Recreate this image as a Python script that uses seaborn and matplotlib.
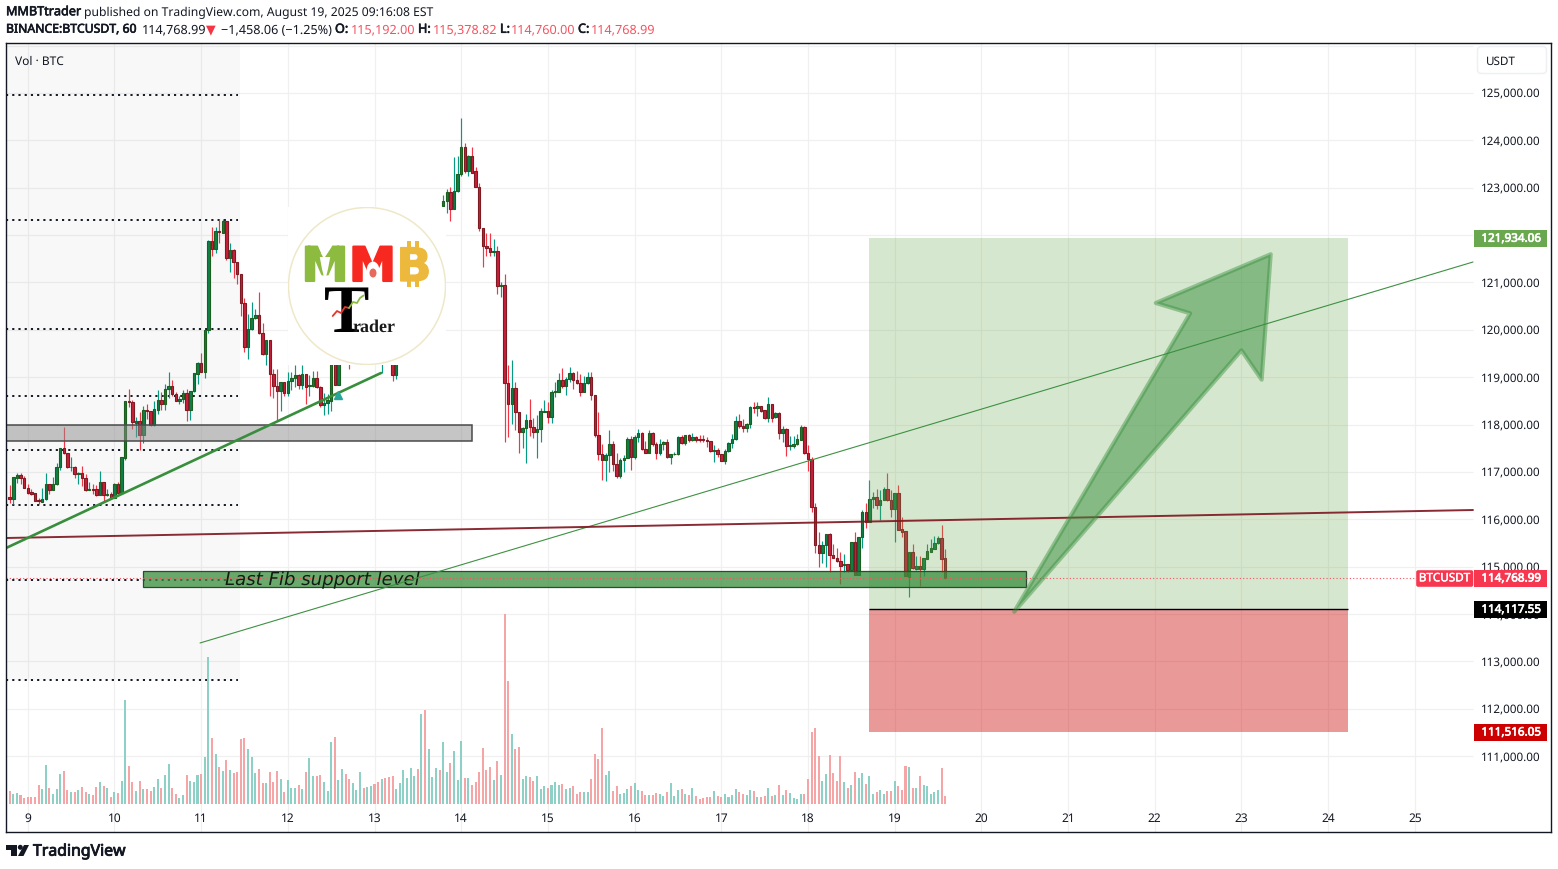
import matplotlib
matplotlib.use('Agg')
import matplotlib.patheffects as pe
import matplotlib.pyplot as plt
import numpy as np
import pandas as pd
import seaborn as sns
from matplotlib.patches import Circle, Ellipse, FancyBboxPatch, Polygon, Rectangle
from matplotlib.transforms import IdentityTransform, ScaledTranslation

W, H = 1558, 870

# hourly candles (hours 92-119 sit behind the logo, rough guess)
opens = [
    116480, 116430, 116880, 116930, 116880, 116670, 116570, 116550, 116400, 116370,
    116420, 116740, 116620, 116740, 117100, 117500, 117410, 117100, 117110, 116960,
    116970, 116880, 116620, 116650, 116640, 116510, 116780, 116510, 116530, 116460,
    116740, 116550, 117290, 118500, 118470, 118040, 118070, 117780, 118310, 118280,
    118000, 118310, 118520, 118440, 118760, 118810, 118650, 118500, 118550, 118660,
    118310, 118700, 119070, 119300, 119120, 120000, 121870, 121710, 122090, 122050,
    122290, 121520, 121680, 121440, 121170, 120560, 119630, 120010, 120240, 120310,
    119930, 119490, 119780, 119070, 118820, 118700, 118890, 118670, 118930, 118980,
    119040, 118840, 119060, 118810, 118820, 118980, 118800, 118410, 118450, 118500,
    119380, 118840, 119400, 119600, 119450, 119350, 119500, 119650, 119750, 119600,
    119700, 119800, 119650, 119500, 119600, 119450, 119350, 119050, 119400, 119800,
    120200, 120600, 120900, 121300, 121100, 121600, 121350, 121700, 122000, 122350,
    122620, 122730, 122900, 122560, 122940, 123300, 123850, 123350, 123660, 123350,
    123010, 122140, 121760, 121720, 121640, 121660, 120930, 120940, 118870, 118430,
    118780, 118260, 117850, 117920, 118090, 117940, 117850, 117900, 118270, 118280,
    118170, 118680, 118690, 118950, 118820, 118970, 119080, 118950, 118870, 118690,
    118870, 119000, 118630, 117770, 117380, 117260, 117350, 117580, 117160, 116920,
    117260, 117300, 117690, 117310, 117730, 117820, 117490, 117410, 117820, 117580,
    117390, 117580, 117630, 117310, 117370, 117370, 117730, 117620, 117780, 117670,
    117730, 117690, 117690, 117670, 117650, 117450, 117460, 117370, 117240, 117440,
    117610, 117690, 118070, 117980, 117920, 118010, 118370, 118350, 118390, 118310,
    118140, 118430, 118150, 118250, 117830, 117910, 117540, 117540, 117580, 117680,
    117940, 117400, 117280, 116260, 115450, 115290, 115450, 115690, 115240, 115190,
    115120, 115040, 115050, 114940, 115520, 114830, 115620, 116150, 115940, 116420,
    116470, 116310, 116400, 116640, 116400, 116210, 116550, 115790, 115750, 114790,
    115300, 114960, 115020, 114960, 115170, 115320, 115380, 115490, 115600, 115192,
]
closes = [
    116430, 116890, 116930, 116880, 116670, 116560, 116530, 116390, 116380, 116420,
    116740, 116620, 116740, 117100, 117500, 117410, 117100, 117110, 116960, 116970,
    116880, 116620, 116650, 116620, 116510, 116780, 116510, 116530, 116450, 116740,
    116560, 117310, 118490, 118480, 118050, 118070, 117780, 118300, 118290, 118000,
    118330, 118520, 118440, 118760, 118810, 118650, 118500, 118550, 118660, 118310,
    118700, 119080, 119300, 119120, 120000, 121870, 121710, 122080, 122070, 122290,
    121520, 121680, 121440, 121170, 120560, 119630, 120010, 120240, 120310, 119930,
    119490, 119780, 119070, 118820, 118700, 118890, 118670, 118930, 118980, 119040,
    118840, 119060, 118800, 118830, 118980, 118800, 118410, 118460, 118520, 119380,
    118840, 119400, 119600, 119450, 119350, 119500, 119650, 119750, 119600, 119700,
    119800, 119650, 119500, 119600, 119450, 119350, 119050, 119400, 119800, 120200,
    120600, 120900, 121300, 121100, 121600, 121350, 121700, 122000, 122350, 122200,
    122730, 122900, 122560, 122940, 123300, 123850, 123350, 123660, 123320, 123010,
    122140, 121760, 121720, 121640, 121660, 120930, 120950, 118870, 118430, 118780,
    118260, 117850, 117920, 118090, 117940, 117850, 117900, 118280, 118290, 118170,
    118680, 118700, 118950, 118820, 118970, 119080, 118950, 118870, 118690, 118870,
    119000, 118630, 117770, 117380, 117260, 117350, 117580, 117160, 116920, 117260,
    117300, 117690, 117310, 117730, 117820, 117490, 117410, 117820, 117580, 117390,
    117590, 117630, 117310, 117370, 117380, 117730, 117620, 117780, 117670, 117730,
    117680, 117670, 117670, 117650, 117440, 117470, 117370, 117240, 117440, 117610,
    117690, 118070, 117980, 117920, 118010, 118370, 118360, 118390, 118290, 118140,
    118430, 118140, 118250, 117830, 117910, 117540, 117570, 117590, 117700, 117940,
    117400, 117280, 116260, 115450, 115290, 115450, 115690, 115240, 115190, 115120,
    115020, 115060, 114940, 115520, 114830, 115620, 116150, 115940, 116430, 116470,
    116310, 116410, 116640, 116400, 116210, 116550, 115780, 115740, 114800, 115300,
    114970, 115010, 114960, 115180, 115330, 115390, 115500, 115600, 115170, 114768.99,
]
highs = [
    116720, 116890, 116980, 116980, 116910, 116740, 116640, 116550, 116460, 116670,
    116980, 116740, 116890, 117190, 117500, 117940, 117410, 117310, 117130, 117000,
    117130, 116960, 116780, 116740, 116720, 117020, 116780, 116640, 116580, 116760,
    116780, 117310, 118490, 118750, 118510, 118150, 118260, 118400, 118430, 118280,
    118500, 118730, 118680, 118860, 119110, 118940, 118680, 118610, 118720, 118760,
    118700, 119080, 119330, 119510, 120000, 121890, 122170, 122170, 122340, 122340,
    122300, 121830, 121710, 121440, 121170, 120670, 120330, 120580, 120440, 120790,
    120140, 119780, 119780, 119170, 119170, 118890, 118900, 119100, 119120, 119260,
    119070, 119260, 119060, 119050, 119140, 119140, 118820, 118660, 118640, 119450,
    119500, 119500, 119700, 119650, 119500, 119600, 119700, 119850, 119800, 119800,
    119900, 119850, 119700, 119700, 119650, 119500, 119400, 119500, 119900, 120300,
    120700, 121000, 121400, 121350, 121700, 121650, 121800, 122100, 122450, 122450,
    122850, 122970, 123010, 123640, 123660, 124470, 123940, 123690, 123860, 123440,
    123110, 122140, 122040, 122040, 121920, 121780, 121020, 121180, 119260, 119360,
    118890, 118260, 117940, 118220, 118540, 118140, 118200, 118350, 118520, 118470,
    118730, 118890, 119090, 119190, 119010, 119210, 119100, 119140, 119070, 119030,
    119120, 119120, 118630, 118270, 117590, 117410, 117880, 117650, 117410, 117300,
    117350, 117730, 117750, 117770, 117900, 117840, 117660, 117880, 117850, 117640,
    117700, 117650, 117690, 117370, 117420, 117750, 117790, 117790, 117800, 117820,
    117750, 117770, 117780, 117730, 117660, 117560, 117500, 117380, 117490, 117630,
    117800, 118180, 118230, 118120, 118030, 118390, 118470, 118470, 118390, 118310,
    118580, 118440, 118260, 118260, 117970, 117920, 117750, 117750, 117800, 118000,
    117980, 117560, 117310, 116350, 115730, 115550, 115690, 115710, 115480, 115400,
    115310, 115270, 115050, 115520, 115730, 115620, 116190, 116350, 116820, 116570,
    116640, 116610, 116690, 116980, 116610, 116550, 116730, 116050, 115760, 115300,
    115480, 115220, 115220, 115180, 115480, 115590, 115640, 115640, 115880, 115378.82,
]
lows = [
    116340, 116320, 116760, 116740, 116670, 116530, 116510, 116390, 116320, 116360,
    116410, 116530, 116620, 116720, 117050, 117380, 117080, 117030, 116880, 116740,
    116710, 116600, 116620, 116530, 116500, 116510, 116370, 116500, 116430, 116450,
    116540, 116530, 117260, 118380, 117910, 117740, 117470, 117620, 118120, 117980,
    117960, 118220, 118310, 118310, 118560, 118600, 118490, 118430, 118450, 118070,
    118100, 118690, 118860, 119120, 118980, 119930, 121550, 121620, 121830, 122040,
    121480, 121230, 121100, 120970, 120290, 119540, 119390, 120000, 120230, 119910,
    119470, 119260, 118610, 118560, 118080, 118290, 118600, 118610, 118720, 118790,
    118750, 118750, 118430, 118610, 118790, 118770, 118380, 118210, 118220, 118290,
    118840, 118840, 119300, 119350, 119170, 119300, 119400, 119600, 119550, 119550,
    119650, 119550, 119400, 119090, 119350, 119300, 118930, 118960, 119350, 119750,
    120100, 120500, 120800, 121000, 121050, 121300, 121300, 121650, 121950, 122100,
    122620, 122470, 122300, 122560, 122920, 123250, 123320, 123250, 123310, 123010,
    122090, 121330, 121560, 121550, 121560, 120760, 120700, 117640, 117740, 118010,
    117890, 117400, 117510, 117190, 117760, 117720, 117300, 117640, 118260, 118030,
    118030, 118590, 118680, 118780, 118630, 118890, 118760, 118850, 118610, 118690,
    118850, 118520, 117740, 117260, 116830, 116810, 117000, 117020, 116880, 116880,
    117000, 117300, 117040, 117280, 117640, 117470, 117400, 117410, 117540, 117280,
    117350, 117470, 117300, 117160, 117350, 117350, 117580, 117560, 117640, 117660,
    117630, 117630, 117630, 117520, 117420, 117220, 117310, 117230, 117170, 117420,
    117500, 117680, 117920, 117840, 117850, 117930, 118250, 118180, 118260, 118120,
    118060, 118050, 118140, 117700, 117640, 117330, 117460, 117500, 117560, 117680,
    117380, 117030, 116160, 115290, 115000, 115080, 115000, 114880, 115190, 115090,
    114640, 114880, 114880, 114920, 114830, 114830, 115390, 115820, 115940, 116240,
    116220, 115990, 116400, 116380, 116050, 115530, 115780, 115620, 114800, 114370,
    114950, 114940, 114600, 114810, 115160, 115320, 115380, 115480, 114880, 114760,
]
volumes = [
    390, 300, 330, 270, 180, 210, 210, 210, 570, 450,
    1170, 480, 300, 450, 900, 990, 420, 360, 360, 420,
    510, 360, 300, 270, 510, 660, 540, 480, 210, 360,
    330, 690, 3120, 1140, 660, 390, 690, 450, 450, 390,
    510, 750, 480, 870, 1200, 480, 300, 180, 270, 870,
    690, 660, 870, 900, 1410, 4410, 1980, 1500, 1110, 990,
    1320, 1020, 930, 960, 1950, 1980, 1650, 1410, 930, 1050,
    630, 630, 960, 660, 990, 750, 360, 720, 480, 480,
    570, 450, 960, 1380, 840, 840, 870, 660, 390, 1860,
    2010, 720, 1050, 900, 750, 630, 420, 960, 480, 510,
    540, 600, 660, 750, 780, 810, 840, 450, 630, 1020,
    780, 1080, 840, 1050, 2700, 2820, 1650, 810, 1080, 1020,
    1860, 960, 1230, 1590, 720, 1890, 780, 780, 570, 660,
    960, 1680, 1020, 1110, 720, 1290, 870, 5700, 3690, 2100,
    1650, 1710, 750, 840, 810, 690, 840, 450, 540, 480,
    570, 660, 570, 600, 450, 480, 540, 300, 360, 360,
    360, 750, 1500, 1350, 2280, 870, 990, 390, 540, 300,
    330, 450, 540, 630, 420, 390, 270, 270, 270, 330,
    300, 240, 360, 630, 240, 420, 450, 300, 270, 480,
    240, 150, 180, 210, 210, 390, 240, 210, 300, 210,
    270, 450, 360, 300, 270, 420, 390, 210, 210, 240,
    480, 240, 270, 570, 270, 420, 330, 180, 150, 300,
    300, 750, 2160, 2280, 1440, 690, 900, 1470, 930, 690,
    1440, 660, 480, 570, 960, 780, 930, 600, 840, 300,
    360, 420, 300, 390, 390, 690, 540, 420, 1140, 1110,
    480, 480, 840, 570, 540, 300, 360, 420, 1080, 240,
]

day_labels = list(range(9, 26))
price_ticks = list(range(111000, 126000, 1000))
fib_levels = [124964, 122319, 120018, 118604, 117470, 116309, 114719, 112615]
last_price = 114768.99
target_price = 121934.06
entry_price = 114117.55
stop_price = 111516.05

# drawings: [hour, price] pairs
trend_up_x, trend_up_y = [-1.0, 102.8], [115395, 119089]
trend_thin_x, trend_thin_y = [52.7, 405.1], [113390, 121432]
trend_red_x, trend_red_y = [-1.0, 405.1], [115606, 116197]
arrow_hours = [278.1, 326.8, 317.3, 349.1, 346.6, 341.0]
arrow_prices = [114050, 120349, 120567, 121595, 118948, 119568]

GREEN_WICK, RED_WICK = '#089981', '#f23645'
GREEN_BODY, RED_BODY = '#0c8049', '#c9203a'
GREEN_EDGE, RED_EDGE = '#1b5e20', '#801922'
DARK = '#131722'
GRID = '#f0f0f1'

sns.set_theme(style='white')
plt.rcParams['font.family'] = ['Noto Sans', 'DejaVu Sans']
plt.rcParams['text.hinting'] = 'no_hinting'  # widths then scale with the size

df = pd.DataFrame({'hour': np.arange(len(opens)), 'open': opens, 'close': closes,
                   'high': highs, 'low': lows, 'volume': volumes})
df['side'] = np.where(df['close'] >= df['open'], 'up', 'down')

fig = plt.figure(figsize=(W / 100, H / 100), dpi=100, facecolor='white')
rect = [6 / W, (H - 833) / H, 1545 / W, 789 / H]
ax = fig.add_axes(rect, zorder=0)
ax_vol = fig.add_axes(rect, zorder=2)
ax_vol.patch.set_alpha(0)

XLIM = (-1.016, 426.7)
YLIM = (109400, 126055)
LAST_X = 405.1  # right end of the chart pane

# grid
ax.set_axisbelow(True)
ax.grid(False)
day_ticks = [5 + 24 * i for i in range(len(day_labels))]
ax.vlines(day_ticks, *YLIM, color=GRID, lw=0.9, zorder=0.2)
ax.hlines(price_ticks + [126000], XLIM[0], LAST_X, color=GRID, lw=0.9, zorder=0.2)

# pale session box and fib dotted levels
ax.add_patch(Rectangle((XLIM[0], 112609), 64.9, YLIM[1] - 112609, fc='black', alpha=0.028, lw=0, zorder=0.3))
ax.hlines(fib_levels, XLIM[0], 63.2, color=DARK, lw=1.4, linestyles=(0, (1.1, 2.1)), zorder=1)

# candles
up = df['side'] == 'up'
for mask, wick, body, edge in [(up, GREEN_WICK, GREEN_BODY, GREEN_EDGE), (~up, RED_WICK, RED_BODY, RED_EDGE)]:
    part = df[mask]
    ax.vlines(part['hour'], part['low'], part['high'], color=wick, lw=0.85, zorder=2)
    tops = part[['open', 'close']].max(axis=1)
    bottoms = part[['open', 'close']].min(axis=1)
    ax.bar(part['hour'], tops - bottoms, bottom=bottoms, width=0.68, color=body,
           edgecolor=edge, linewidth=0.8, zorder=2.1)

# volume pane
sns.barplot(data=df, x='hour', y='volume', hue='side', palette={'up': '#8dd0c6', 'down': '#f6a5a6'},
            native_scale=True, dodge=False, width=0.56, errorbar=None, legend=False,
            saturation=1, linewidth=0, ax=ax_vol)
ax_vol.set_xlim(*XLIM)
ax_vol.set_ylim(-840, 22830)
ax_vol.axis('off')

# long position box
ax.add_patch(Rectangle((237.9, entry_price), 132.6, target_price - entry_price, fc='#6aa84f', alpha=0.27, lw=0, zorder=3))
ax.add_patch(Rectangle((237.9, stop_price), 132.6, entry_price - stop_price, fc='#cc0000', alpha=0.4, lw=0, zorder=3))
ax.hlines(entry_price, 237.9, 370.5, color='black', lw=1, zorder=3.5)

# zones
ax.add_patch(Rectangle((XLIM[0], 117647), 129.1, 338, fc='#8c8c8c', alpha=0.5, lw=0, zorder=3))
ax.add_patch(Rectangle((XLIM[0], 117647), 129.1, 338, fc='none', ec='#4a4a4a', lw=1.1, zorder=3.1))
ax.add_patch(Rectangle((36.9, 114565), 244.5, 338, fc='#388e3c', alpha=0.75, lw=0, zorder=3))
ax.add_patch(Rectangle((36.9, 114565), 244.5, 338, fc='none', ec='#2f4a33', lw=0.9, zorder=3.1))
ax.text(59.6, 114734, 'Last Fib support level', style='italic', family='DejaVu Sans', fontsize=13.1,
        color='#0f1f12', va='center', ha='left', zorder=4)

# last price line
ax.hlines(last_price, XLIM[0], 389.3, color='#f7525f', lw=0.8, linestyles=(0, (1, 2)), zorder=3.6)

# trend lines
sns.lineplot(x=trend_thin_x, y=trend_thin_y, color='#3d9142', lw=0.8, ax=ax, zorder=4)
sns.lineplot(x=trend_red_x, y=trend_red_y, color='#801922', lw=1.4, ax=ax, zorder=4, alpha=0.92)
sns.lineplot(x=trend_up_x, y=trend_up_y, color='#388e3c', lw=1.9, ax=ax, zorder=4)
ax.plot([91], [118630], marker='^', ms=6, color='#26a69a', zorder=4)

# arrow
ax.add_patch(Polygon(np.column_stack([arrow_hours, arrow_prices]), closed=True, fc=(0.22, 0.56, 0.24, 0.5),
                     ec=(0.22, 0.56, 0.24, 0.45), lw=3, joinstyle='round', zorder=5))

# axes, ticks
ax.set_xlim(*XLIM)
ax.set_ylim(*YLIM)
ax.set(xlabel='', ylabel='')
ax.set_xticks(day_ticks, [str(d) for d in day_labels])
ax.yaxis.tick_right()
ax.set_yticks(price_ticks, [f'{p:,.2f}' for p in price_ticks], ha='right')
ax.tick_params(axis='y', length=0, pad=-7.2, labelsize=8.4, colors=DARK)
ax.tick_params(axis='x', length=0, pad=-14.7, labelsize=8.6, colors=DARK)
lift = ScaledTranslation(0, 1.5 / 100, fig.dpi_scale_trans)  # labels sit a touch above their grid line
for lbl in ax.get_yticklabels():
    lbl.set_transform(lbl.get_transform() + lift)
for side in ax.spines.values():
    side.set_color(DARK)
    side.set_linewidth(1.0)
    side.set_zorder(10)


def stroke(color, width=0.45):
    return [pe.withStroke(linewidth=width, foreground=color)]


# logo, drawn in image pixels
logo = fig.add_axes([288 / W, (H - 366) / H, 158 / W, 158 / H], zorder=1)
logo.set_xlim(288, 446)
logo.set_ylim(366, 208)
logo.axis('off')
logo.add_patch(Rectangle((288, 208), 158, 158, fc='white', lw=0))
logo.add_patch(Circle((367, 287), 78.5, fc='white', ec='#efe8c8', lw=1.1))
logo.text(325, 282, 'M', family='DejaVu Sans', weight='bold', fontsize=34, color='#8dbb3f', ha='center',
          va='baseline', path_effects=stroke('#8dbb3f', 1.5))
logo.text(372.5, 282, 'M', family='DejaVu Sans', weight='bold', fontsize=34, color='#f7281f', ha='center',
          va='baseline', path_effects=stroke('#f7281f', 1.5))
logo.text(414, 282, 'B', family='DejaVu Sans', weight='bold', fontsize=33, color='#edb93c', ha='center',
          va='baseline', path_effects=stroke('#edb93c', 1.0))
for bx in (407, 415):
    logo.add_patch(Rectangle((bx, 241.5), 4, 8, fc='#edb93c', lw=0))
    logo.add_patch(Rectangle((bx, 280), 4, 7.5, fc='#edb93c', lw=0))
logo.add_patch(Polygon([[319, 254], [331, 254], [328, 270], [325, 282], [322, 270]], fc='white', lw=0, zorder=4))
logo.add_patch(Polygon([[308, 246], [318, 249], [323, 258], [313, 258]], fc='#8dbb3f', lw=0, zorder=4))
logo.add_patch(Polygon([[339, 246], [331, 249], [325, 258], [335, 258]], fc='#8dbb3f', lw=0, zorder=4))
logo.add_patch(Ellipse((373, 272), 13, 19, fc='white', lw=0, zorder=4))
logo.add_patch(Ellipse((373, 274), 7, 9, fc='#e86a5f', lw=0, zorder=4))
logo.text(347, 332, 'T', family='Liberation Serif', weight='bold', fontsize=49, color='black', ha='center', va='baseline')
logo.text(353, 331.5, 'rader', family='Liberation Serif', weight='bold', fontsize=13, color='#1a1a1a', ha='left', va='baseline')
logo.plot([332.7, 337, 341, 345, 349], [317, 312, 314, 308, 309], color='#e8352b', lw=1.3, zorder=5)
logo.plot([349, 353, 357, 360, 363.5], [309, 303, 304, 299, 296.5], color='#8dbb3f', lw=1.3, zorder=5)

pix = IdentityTransform()


def label_box(y_mid, text, color, x0=1474, width=73, height=16.5):
    fig.add_artist(Rectangle((x0, H - y_mid - height / 2), width, height, fc=color, lw=0, transform=pix, zorder=5))
    fig.text(1541 / W, 1 - (y_mid + 0.2) / H, text, color='white', fontsize=8.4,
             ha='right', va='center', zorder=6, path_effects=stroke('white', 0.5))


# price scale labels
fig.add_artist(FancyBboxPatch((1479, H - 73), 66, 24, boxstyle='round,pad=1.5,rounding_size=4', fc='white',
                              ec='#eef0f3', lw=1.1, transform=pix, zorder=5))
fig.text(1486 / W, 1 - 62 / H, 'USDT', fontsize=8.4, color=DARK, va='center', zorder=6)
label_box(239.5, '121,934.06', '#6aa84f')
label_box(579.3, '114,768.99', '#f7374f')
label_box(610.5, '114,117.55', '#000000')
label_box(733.3, '111,516.05', '#cc0000')
fig.add_artist(FancyBboxPatch((1417, H - 587), 55.5, 15, boxstyle='round,pad=0.8,rounding_size=2', fc='#f7374f',
                              lw=0, transform=pix, zorder=5))
fig.text(1444.5 / W, 1 - 579.3 / H, 'BTCUSDT', color='white', fontsize=8.4, ha='center', va='center', zorder=6,
         path_effects=stroke('white', 0.3))
fig.text(15 / W, 1 - 61.5 / H, 'Vol · BTC', fontsize=8.6, color=DARK, va='center', zorder=6)


def head(x, y, text, size=9.1, bold=False, color=DARK):
    effects = stroke(color) if bold else None
    fig.text(x / W, 1 - y / H, text, fontsize=size, va='center', color=color, path_effects=effects)


RED_TXT = '#f7525f'
head(6, 13, 'MMBTtrader', size=9.1, bold=True)
head(84, 13, 'published on TradingView.com, August 19, 2025 09:16:08 EST', size=8.75)
head(6, 30.5, 'BINANCE:BTCUSDT, 60', size=8.8, bold=True)
head(142, 30.5, '114,768.99')
head(206, 30.5, '▼', color='#f23645')
head(221, 30.5, '−1,458.06 (−1.25%)')
head(335, 30.5, 'O:', bold=True)
head(351, 30.5, '115,192.00', color=RED_TXT)
head(418, 30.5, 'H:', bold=True)
head(433, 30.5, '115,378.82', color=RED_TXT)
head(500, 30.5, 'L:', bold=True)
head(511, 30.5, '114,760.00', color=RED_TXT)
head(578, 30.5, 'C:', bold=True)
head(591, 30.5, '114,768.99', color=RED_TXT)

# TradingView mark
fig.add_artist(Polygon([[6, H - 846], [17, H - 846], [17, H - 857], [11, H - 857], [11, H - 851], [6, H - 851]],
                       fc=DARK, lw=0, transform=pix))
fig.add_artist(Circle((20.3, H - 848.3), 2.5, fc=DARK, lw=0, transform=pix))
fig.add_artist(Polygon([[24, H - 846], [29, H - 846], [23.5, H - 857], [18, H - 857]], fc=DARK, lw=0, transform=pix))
fig.text(33 / W, 1 - 852.5 / H, 'TradingView', fontsize=11.4, color=DARK, va='center', path_effects=stroke(DARK, 0.6))

fig.savefig('out.png', dpi=100)
